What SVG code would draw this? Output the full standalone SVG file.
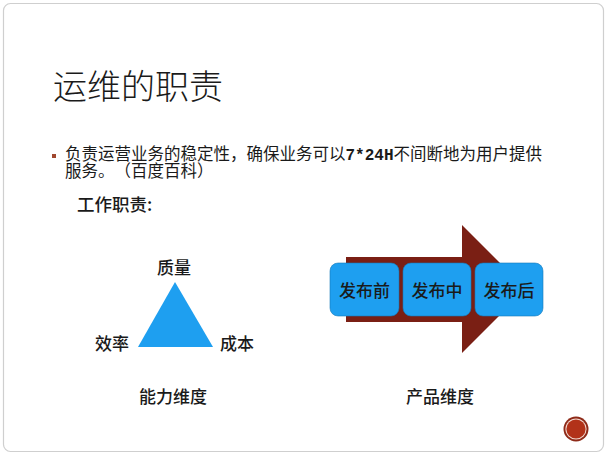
<svg xmlns="http://www.w3.org/2000/svg" width="608" height="456" viewBox="0 0 608 456">
<style>
text{font-family:"Noto Sans CJK SC","Liberation Sans",sans-serif;fill:#1a1a1a}
.lbl{font-size:17px;text-anchor:middle;font-weight:500}
.box{fill:#1E9FF0;stroke:#1679b8;stroke-width:0.6}
.blt{font-size:16.5px;text-spacing-trim:space-all}
</style>
<rect width="608" height="456" fill="#ffffff"/>
<rect x="3.5" y="3.5" width="600" height="448" rx="7" fill="#ffffff" stroke="#cfcfcf" stroke-width="1.2"/>
<g id="title"><text x="53" y="99" font-size="34" font-weight="300" fill="#1a1a1a">运维的职责</text></g>
<g id="bullet">
<rect x="52" y="154" width="4" height="4" fill="#a0472f"/>
<text class="blt" x="65" y="160">负责运营业务的稳定性，确保业务可以<tspan font-family="Liberation Mono,monospace" font-weight="bold" font-size="16">7*24H</tspan>不间断地为用户提供<tspan x="65" y="177">服务。（百度百科）</tspan></text>
</g>
<g id="worklabel"><text x="77" y="211" font-size="17.5" font-weight="500">工作职责:</text></g>
<g id="triangle">
<polygon points="175,282 138,347 213,347" fill="#1E9FF0"/>
<text class="lbl" x="174" y="274">质量</text>
<text class="lbl" x="112" y="350">效率</text>
<text class="lbl" x="237" y="350">成本</text>
<text class="lbl" x="173" y="403">能力维度</text>
</g>
<g id="connectors">
<polygon points="346,257 462,257 462,225 526,289 462,353 462,322 346,322" fill="#7a1f14"/>
</g>
<g id="box1"><rect class="box" x="330" y="263" width="69" height="53" rx="8"/><text class="lbl" x="364.5" y="297" font-weight="400">发布前</text></g>
<g id="box2"><rect class="box" x="403" y="263" width="68" height="53" rx="8"/><text class="lbl" x="437" y="297" font-weight="400">发布中</text></g>
<g id="box3"><rect class="box" x="475" y="263" width="68" height="53" rx="8"/><text class="lbl" x="509" y="297" font-weight="400">发布后</text></g>
<g id="caption2"><text class="lbl" x="440" y="403">产品维度</text></g>
<g id="badge">
<circle cx="576" cy="429" r="12.5" fill="#8e2a18"/>
<circle cx="576" cy="429" r="10.6" fill="#f3d9d0"/>
<circle cx="576" cy="429" r="9.6" fill="#b23219"/>
</g>
</svg>
